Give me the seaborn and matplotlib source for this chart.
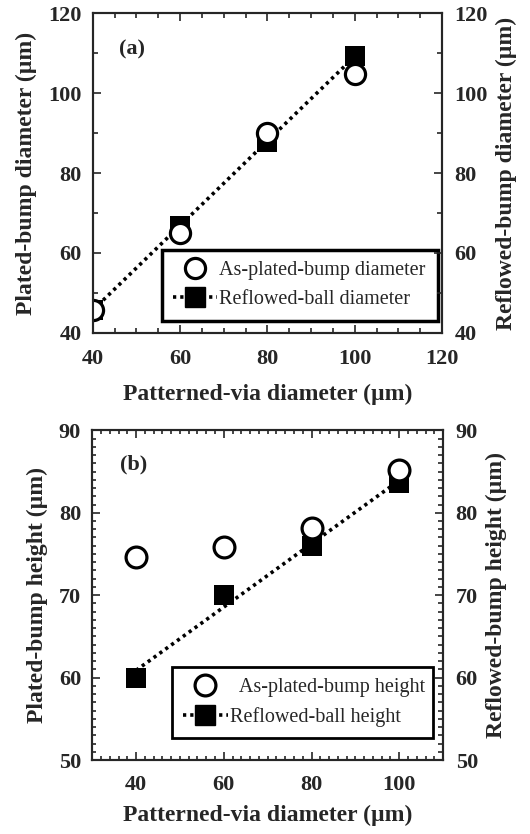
import matplotlib
matplotlib.use("Agg")
import matplotlib.pyplot as plt
from matplotlib.lines import Line2D
from matplotlib.ticker import MultipleLocator
import seaborn as sns

sns.set_style("ticks")
plt.rcParams['font.family'] = ['Liberation Serif', 'DejaVu Serif']
plt.rcParams['axes.unicode_minus'] = False

# data
via_diam = [40, 60, 80, 100]
plated_diam = [45.8, 65.0, 90.0, 104.8]
reflowed_diam = [45.8, 66.7, 87.8, 109.4]
plated_height = [74.6, 75.8, 78.1, 85.2]
reflowed_height = [60.0, 70.0, 76.0, 83.6]

DOT = (0, (0.9, 1.1))


def style_axes(ax, ylim, xlim, xmaj, xmin, ymaj, ymin, ylabel, ylabel_r, xpad, xlabpad):
    ax.set_xlim(*xlim)
    ax.set_ylim(*ylim)
    ax.xaxis.set_major_locator(MultipleLocator(xmaj))
    ax.xaxis.set_minor_locator(MultipleLocator(xmin))
    ax.yaxis.set_major_locator(MultipleLocator(ymaj))
    ax.yaxis.set_minor_locator(MultipleLocator(ymin))
    for s in ax.spines.values():
        s.set_linewidth(1.5)
        s.set_visible(True)
    ax.tick_params(which="both", direction="in", top=True, right=False,
                   width=1.2, labelsize=16)
    ax.tick_params(which="major", length=6)
    ax.tick_params(which="minor", length=3.5)
    ax.tick_params(axis="x", pad=xpad)
    ax.tick_params(axis="y", pad=8)
    for lab in ax.get_xticklabels() + ax.get_yticklabels():
        lab.set_fontweight("bold")
    ax.set_xlabel("Patterned-via diameter (µm)", fontsize=17, fontweight="bold", labelpad=xlabpad)
    ax.set_ylabel(ylabel, fontsize=17, fontweight="bold", labelpad=8)

    axr = ax.twinx()
    axr.set_ylim(*ylim)
    axr.yaxis.set_major_locator(MultipleLocator(ymaj))
    axr.yaxis.set_minor_locator(MultipleLocator(ymin))
    axr.tick_params(which="both", direction="in", width=1.2, labelsize=16, pad=9)
    axr.tick_params(which="major", length=6)
    axr.tick_params(which="minor", length=3.5)
    for lab in axr.get_yticklabels():
        lab.set_fontweight("bold")
    axr.set_ylabel(ylabel_r, fontsize=17, fontweight="bold", labelpad=6)
    for s in axr.spines.values():
        s.set_linewidth(1.5)
    return axr


def draw_panel(ax, plated, reflowed, lab_o, lab_s, size):
    sns.regplot(x=via_diam, y=reflowed, ax=ax, scatter=False, ci=None,
                color="black", line_kws=dict(lw=2.6, ls=DOT, zorder=2))
    sns.scatterplot(x=via_diam, y=reflowed, ax=ax, marker="s", s=size ** 2,
                    color="black", edgecolor="black", linewidth=0, zorder=3)
    sns.scatterplot(x=via_diam, y=plated, ax=ax, marker="o", s=size ** 2,
                    facecolor="white", edgecolor="black", linewidth=2.3, zorder=4)
    handles = [
        Line2D([], [], ls="none", marker="o", ms=size, mfc="white", mec="black", mew=2.3),
        Line2D([], [], ls=DOT, lw=2.6, color="black", marker="s", ms=size, mfc="black", mec="black"),
    ]
    return handles, [lab_o, lab_s]


fig = plt.figure(figsize=(5.3, 8.34), dpi=100)

# panel (a)
ax1 = fig.add_axes([0.175, 0.601, 0.659, 0.383])
h, l = draw_panel(ax1, plated_diam, reflowed_diam,
                  "As-plated-bump diameter", "Reflowed-ball diameter", 14.5)
style_axes(ax1, (40, 120), (40, 120), 20, 5, 20, 10,
           "Plated-bump diameter (µm)", "Reflowed-bump diameter (µm)", 12, 10)
leg = ax1.legend(h, l, loc="center", bbox_to_anchor=(0.198, 0.031, 0.791, 0.235),
                 mode="expand", fontsize=14.5, frameon=True, fancybox=False,
                 edgecolor="black", framealpha=1, handlelength=2.2,
                 handletextpad=0.1, borderpad=0.55, labelspacing=0.5, borderaxespad=0)
leg.get_frame().set_linewidth(2.5)
ax1.text(49, 111, "(a)", fontsize=16, fontweight="bold", ha="center", va="center")

# panel (b)
ax2 = fig.add_axes([0.174, 0.0887, 0.662, 0.3953])
h, l = draw_panel(ax2, plated_height, reflowed_height,
                  "  As-plated-bump height", "Reflowed-ball height", 15)
style_axes(ax2, (50, 90), (30, 110), 20, 2, 10, 1,
           "Plated-bump height (µm)", "Reflowed-bump height (µm)", 11, 7)
ax2.tick_params(which="minor", length=3)
leg = ax2.legend(h, l, loc="center", bbox_to_anchor=(0.228, 0.055, 0.743, 0.239),
                 mode="expand", fontsize=14.5, frameon=True, fancybox=False,
                 edgecolor="black", framealpha=1, handlelength=2.2,
                 handletextpad=0.1, borderpad=0.55, labelspacing=0.5, borderaxespad=0)
leg.get_frame().set_linewidth(2.0)
ax2.text(39.5, 85.8, "(b)", fontsize=16, fontweight="bold", ha="center", va="center")

fig.savefig("out.png", dpi=100)
